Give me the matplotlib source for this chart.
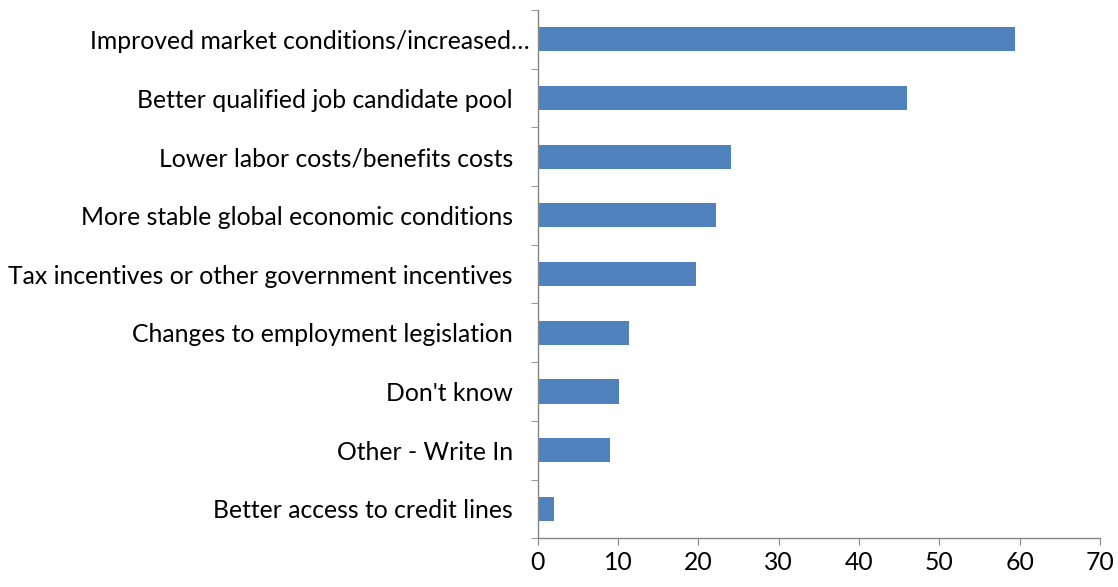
import numpy as np
import matplotlib.pyplot as plt
import matplotlib.transforms as mtransforms
from matplotlib.ticker import FixedLocator

categories = [
	"Improved market conditions/increased…",
	"Better qualified job candidate pool",
	"Lower labor costs/benefits costs",
	"More stable global economic conditions",
	"Tax incentives or other government incentives",
	"Changes to employment legislation",
	"Don't know",
	"Other - Write In",
	"Better access to credit lines",
]
values = [59.4, 46.0, 24.0, 22.2, 19.7, 11.3, 10.1, 9.0, 2.0]
x_ticks = [0, 10, 20, 30, 40, 50, 60, 70]

plt.rcParams['font.family'] = ['Lato', 'DejaVu Sans']

fig = plt.figure(figsize=(11.18, 5.87), dpi=100)
ax = fig.add_axes([0.481, 0.083, 0.503, 0.900])

y = np.arange(len(categories))[::-1]
ax.barh(y, values, height=0.41, color='#4F81BD')

ax.set_xlim(0, 70)
ax.set_ylim(-0.5, len(categories) - 0.5)
ax.set_xticks(x_ticks)
ax.set_yticks(y)
ax.set_yticklabels(categories, fontsize=17.8)
ax.tick_params(axis='x', labelsize=17.8, length=5, color='#868686', pad=4)
ax.tick_params(axis='y', which='major', length=0, pad=18)

# the truncated first label runs closer to the axis
first = ax.get_yticklabels()[0]
first.set_transform(first.get_transform() + mtransforms.ScaledTranslation(17 / 100, 0, fig.dpi_scale_trans))

# category boundary ticks on the value-axis side
ax.yaxis.set_minor_locator(FixedLocator(np.arange(-0.5, len(categories), 1.0)))
ax.tick_params(axis='y', which='minor', length=5, color='#868686')

for side in ['top', 'right']:
	ax.spines[side].set_visible(False)
for side in ['left', 'bottom']:
	ax.spines[side].set_color('#868686')
	ax.spines[side].set_linewidth(1.0)

fig.savefig('out.png', dpi=100)
